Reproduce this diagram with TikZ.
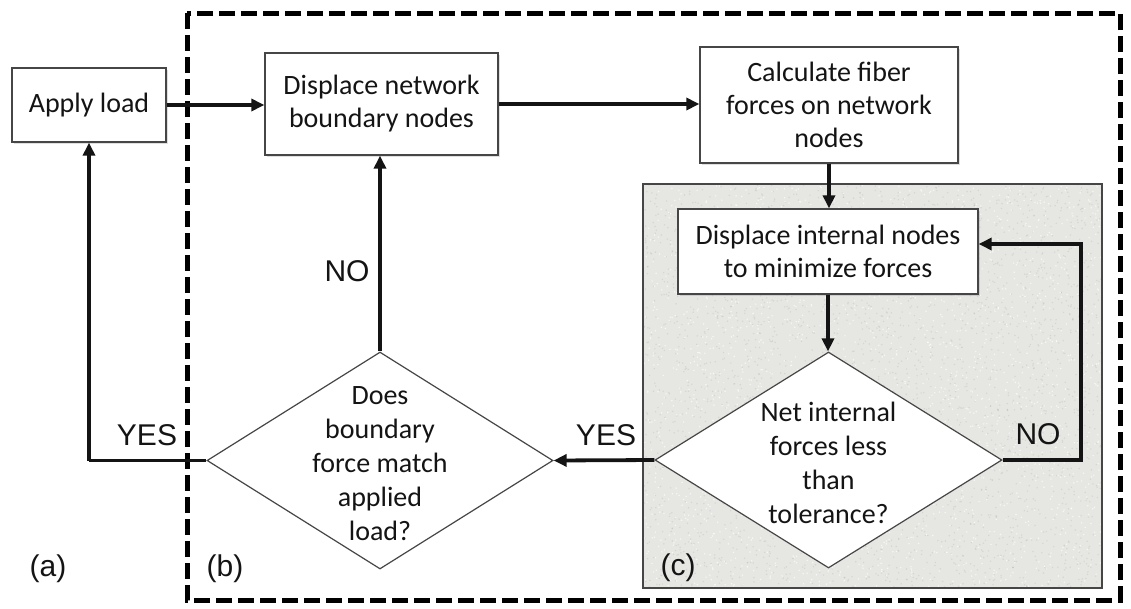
\documentclass[tikz,border=0pt]{standalone}
\usepackage{fontspec}
\setmainfont{Carlito}
\newfontfamily\labelfont{Liberation Sans}
\usetikzlibrary{shapes.geometric,arrows.meta,shadows}

\definecolor{inkc}{RGB}{20,20,20}
\definecolor{edgec}{RGB}{70,70,70}
\definecolor{panelc}{RGB}{230,230,226}

\tikzset{
  procbox/.style={draw=edgec, line width=1.3pt, fill=white, align=center,
    inner sep=0pt, text=inkc, font=\fontsize{28}{33}\selectfont,
    drop shadow={shadow xshift=1.5pt, shadow yshift=-1.5pt, opacity=0.25}},
  decision/.style={diamond, draw=edgec, line width=1.2pt, fill=white,
    inner sep=0pt},
  dectext/.style={align=center, text=inkc, font=\fontsize{28}{34}\selectfont},
  flow/.style={line width=3.8pt, draw=inkc, -{Triangle[length=13pt,width=12pt]}},
  flowplain/.style={line width=3.8pt, draw=inkc},
  tag/.style={text=inkc, font=\labelfont\fontsize{30}{32}\selectfont, inner sep=0pt},
  frame/.style={draw=black, line width=5pt, dash pattern=on 16pt off 6pt},
}

\begin{document}
\begin{tikzpicture}[x=1pt,y=-1pt]
\useasboundingbox (0,0) rectangle (1131,608);

% outer dashed frame (b)
\draw[frame] (187,13) rectangle (1120,600);

% inner textured panel (c)
\fill[panelc] (643,184) rectangle (1102,588);
\begin{scope}
  \clip (643,184) rectangle (1102,588);
  \pgfmathsetseed{17}
  \foreach \i in {1,...,3000}{
    \pgfmathsetmacro\xx{643+459*rnd}
    \pgfmathsetmacro\yy{184+404*rnd}
    \fill[black!40, opacity=0.22] (\xx,\yy) circle (0.8pt);
  }
  \foreach \i in {1,...,2200}{
    \pgfmathsetmacro\xx{643+459*rnd}
    \pgfmathsetmacro\yy{184+404*rnd}
    \fill[white, opacity=0.7] (\xx,\yy) circle (0.8pt);
  }
\end{scope}
\draw[edgec, line width=1.3pt] (643,184) rectangle (1102,588);

% process boxes
\node[procbox, minimum width=154pt, minimum height=74pt] (apply) at (89,105) {Apply load};
\node[procbox, minimum width=233pt, minimum height=102pt] (bnd) at (381.5,104) {Displace network\\boundary nodes};
\node[procbox, minimum width=258pt, minimum height=116pt] (calc) at (829,105) {Calculate fiber\\forces on network\\nodes};
\node[procbox, minimum width=300pt, minimum height=85pt] (inner) at (828,251.5) {Displace internal nodes\\to minimize forces};

% decisions
\node[decision, minimum width=347pt, minimum height=216pt] (d1) at (828.5,460) {};
\node[dectext] (d1t) at (828.5,463) {Net internal\\forces less\\than\\tolerance?};
\node[decision, minimum width=346pt, minimum height=217pt] (d2) at (380,460.5) {};
\node[dectext] (d2t) at (380,464) {Does\\boundary\\force match\\applied\\load?};

% turning points of the loops
\coordinate (noloop) at (1081,244);
\coordinate (yesloop) at (89,460.5);

% connectors
\draw[flow] (apply.east) -- (apply.east -| bnd.west);
\draw[flow] (bnd.east) -- (bnd.east -| calc.west);
\draw[flow] (calc.south) -- (calc.south |- inner.north);
\draw[flow] (inner.south) -- (inner.south |- d1.north);
\draw[flow] (d1.east) -| (noloop) -- (noloop -| inner.east);
\draw[flow] (d1.west) -- (d2.east);
\draw[flow] (d2.north) -- (d2.north |- bnd.south);
\draw[flowplain] (d2.west) -- (yesloop);
\draw[flow] (yesloop) -- (apply.south);

% branch labels
\node[tag] (noA) at (347,271) {NO};
\node[tag] (yesA) at (147,435) {YES};
\node[tag] (yesB) at (606,435) {YES};
\node[tag] (noB) at (1038,434) {NO};

% panel labels
\node[tag] (la) at (48,569) {(a)};
\node[tag] (lb) at (225,569) {(b)};
\node[tag] (lc) at (678,568) {(c)};
\end{tikzpicture}
\end{document}
